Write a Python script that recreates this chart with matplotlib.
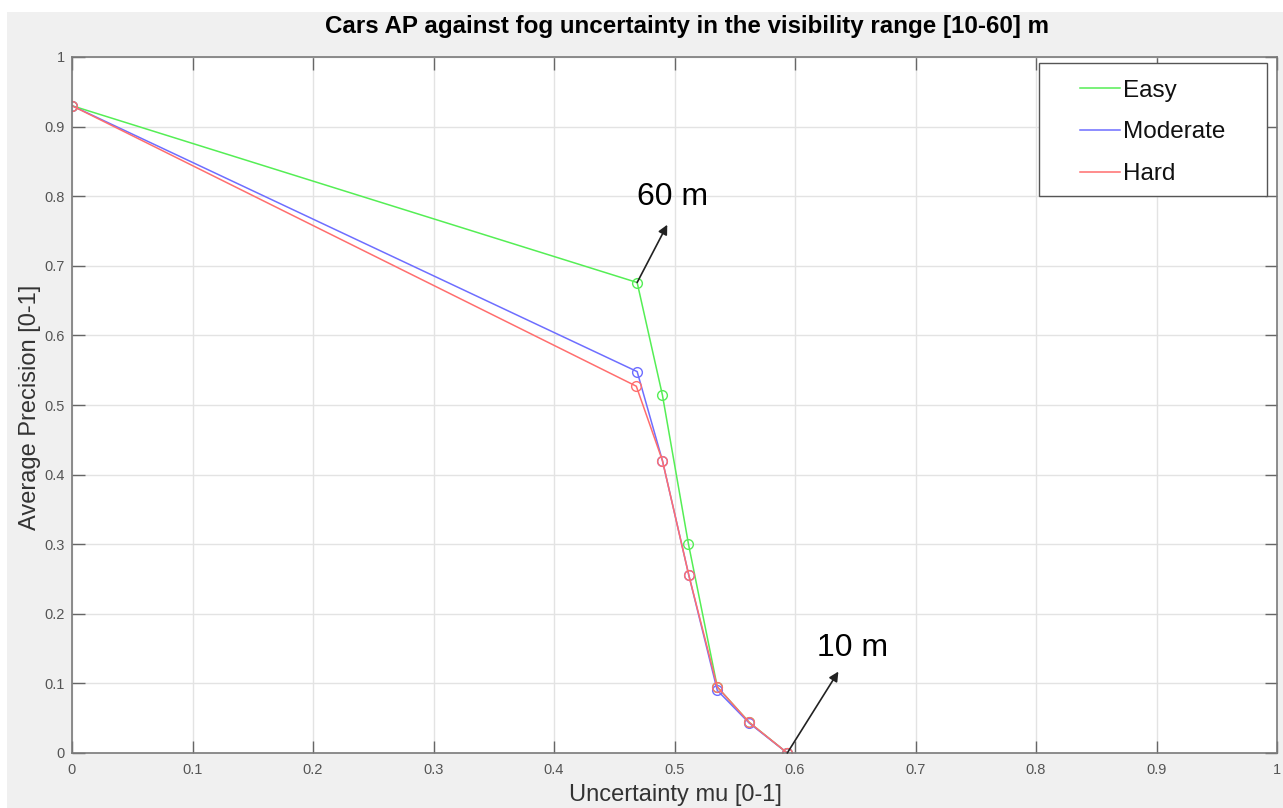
import matplotlib
matplotlib.use("Agg")
import matplotlib.pyplot as plt
from matplotlib.patches import Rectangle
from matplotlib.lines import Line2D

plt.rcParams['font.family'] = ['Liberation Sans', 'DejaVu Sans']

mu_easy = [0.0, 0.469, 0.490, 0.5115, 0.5355, 0.562, 0.5936]
ap_easy = [0.930, 0.676, 0.514, 0.301, 0.095, 0.044, 0.0]
mu_mod = [0.0, 0.469, 0.490, 0.5118, 0.5355, 0.562, 0.5936]
ap_mod = [0.930, 0.548, 0.420, 0.256, 0.090, 0.043, 0.0]
mu_hard = [0.0, 0.4683, 0.490, 0.5118, 0.5355, 0.562, 0.5936]
ap_hard = [0.930, 0.527, 0.420, 0.256, 0.095, 0.044, 0.0]

series = [("Easy", mu_easy, ap_easy, "#55ee55"),
          ("Moderate", mu_mod, ap_mod, "#6e6eff"),
          ("Hard", mu_hard, ap_hard, "#ff6e6e")]

ticks = [0, 0.1, 0.2, 0.3, 0.4, 0.5, 0.6, 0.7, 0.8, 0.9, 1]
tick_labels = ["0", "0.1", "0.2", "0.3", "0.4", "0.5", "0.6", "0.7", "0.8", "0.9", "1"]

W, H = 1283, 808
fig = plt.figure(figsize=(W / 100, H / 100), dpi=100, facecolor="white")
fig.patches.append(Rectangle((7 / W, 0), 1, (H - 12) / H, transform=fig.transFigure,
                             facecolor="#f0f0f0", edgecolor="none", zorder=-10))

ax = fig.add_axes([72 / W, 1 - 753 / H, (1277 - 72) / W, (753 - 57) / H])
ax.set_facecolor("white")

for name, x, y, c in series:
    ax.plot(x, y, color=c, lw=1.1, marker="o", markersize=7,
            markerfacecolor="none", markeredgecolor=c, markeredgewidth=1.0,
            label=name)

ax.set_xlim(0, 1)
ax.set_ylim(0, 1)
ax.set_xticks(ticks)
ax.set_xticklabels(tick_labels)
ax.set_yticks(ticks)
ax.set_yticklabels(tick_labels)
ax.grid(True, color="#e3e3e3", lw=1)
ax.set_axisbelow(True)
ax.tick_params(direction="in", length=9, width=1, color="#666666",
               labelcolor="#555555", labelsize=10.5, top=True, right=True)
ax.tick_params(axis="x", pad=7)
ax.tick_params(axis="y", pad=5)
for s in ax.spines.values():
    s.set_color("#7a7a7a")
    s.set_linewidth(1.2)

fig.text(687 / W, 1 - 26 / H, "Cars AP against fog uncertainty in the visibility range [10-60] m",
         fontsize=17.4, fontweight="bold", ha="center", va="center")
fig.text(675 / W, 1 - 795 / H, "Uncertainty mu [0-1]", fontsize=17, color="#333333",
         ha="center", va="center")
fig.text(30 / W, 1 - 407 / H, "Average Precision [0-1]", fontsize=17, color="#333333",
         ha="center", va="center", rotation=90)

ax.annotate("", xy=(0.494, 0.759), xytext=(0.469, 0.676),
            arrowprops=dict(arrowstyle="-|>", color="#222222", lw=1.2,
                            mutation_scale=14, shrinkA=0, shrinkB=0))
ax.text((673 - 72) / 1205, (753 - 197) / 696, "60 m", fontsize=23, ha="center", va="center")
ax.annotate("", xy=(0.636, 0.117), xytext=(0.5936, 0.0),
            arrowprops=dict(arrowstyle="-|>", color="#222222", lw=1.2,
                            mutation_scale=14, shrinkA=0, shrinkB=0))
ax.text((853 - 72) / 1205, (753 - 648) / 696, "10 m", fontsize=23, ha="center", va="center")

# legend box (MATLAB style), in figure pixels
def fx(px):
    return px / W

def fy(py):
    return 1 - py / H

fig.patches.append(Rectangle((fx(1039), fy(196)), fx(1267) - fx(1039), fy(63) - fy(196),
                             transform=fig.transFigure, facecolor="white",
                             edgecolor="#555555", lw=1.0, zorder=5))
for i, (name, x, y, c) in enumerate(series):
    yy = 88 + 42 * i
    fig.lines.append(Line2D([fx(1080), fx(1120)], [fy(yy), fy(yy)], color=c, lw=1.1,
                            transform=fig.transFigure, zorder=6))
    fig.text(fx(1123), fy(yy), name, fontsize=17.5, ha="left", va="center_baseline",
             color="#111111", zorder=6)

fig.savefig("out.png", dpi=100, facecolor=fig.get_facecolor())
